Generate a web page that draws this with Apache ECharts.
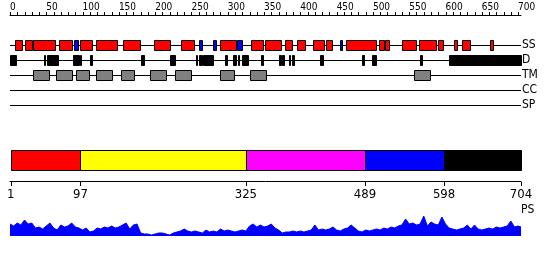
<!DOCTYPE html>
<html><head><meta charset="utf-8">
<script src="https://cdn.jsdelivr.net/npm/echarts@6/dist/echarts.min.js"></script>
<style>html,body{margin:0;padding:0;background:#fff}#c{width:550px;height:260px}</style>
</head><body><div id="c"></div>
<script>
// ---- data ----
const seqLength = 704;
const rowNames = ['SS', 'D', 'TM', 'CC', 'SP'];
const ssHelix = [[7,16],[21,30],[32,62],[67,85],[97,113],[119,148],[155,179],[198,220],[236,253],[290,311],[332,349],[351,374],[379,388],[395,406],[417,432],[435,443],[463,504],[508,515],[517,522],[540,559],[563,587],[589,596],[612,616],[623,634],[661,665]];
const ssStrand = [[88,93],[260,264],[279,284],[313,319],[454,458]];
const disorder = [[0,8],[47,48],[51,66],[87,95],[96,97],[110,113],[181,185],[220,228],[256,257],[261,264],[266,279],[296,299],[307,312],[314,315],[320,328],[346,348],[371,373],[375,377],[384,386],[389,391],[427,431],[485,488],[499,504],[565,567],[605,704]];
const tmSegments = [[32,54],[64,86],[91,109],[119,141],[153,171],[193,215],[228,250],[290,309],[330,352],[557,579]];
const domainBounds = [1, 97, 325, 489, 598, 704];
const rulerTicks = [0,10,20,30,40,50,60,70,80,90,100,110,120,130,140,150,160,170,180,190,200,210,220,230,240,250,260,270,280,290,300,310,320,330,340,350,360,370,380,390,400,410,420,430,440,450,460,470,480,490,500,510,520,530,540,550,560,570,580,590,600,610,620,630,640,650,660,670,680,690,700];
const rulerLabels = [0,50,100,150,200,250,300,350,400,450,500,550,600,650,700];
const psStep = 5;
const psValues = [12,10,13,11,16,12,13,8,9,7, 10,13,8,6,11,9,10,13,9,8, 6,8,4,5,8,7,9,8,10,8, 9,11,13,7,11,12,3,2,2,1, 2,3,3,2,1,3,4,5,7,5, 4,5,4,3,6,4,5,4,7,5, 6,5,4,5,6,5,10,12,9,11, 9,10,12,8,6,3,4,4,5,4, 5,4,5,6,11,6,7,6,7,9, 6,5,7,8,11,8,5,4,6,5, 6,7,6,8,7,9,8,10,11,17, 12,13,11,12,20,10,14,12,11,19, 12,8,7,6,7,8,11,7,11,7, 6,7,8,7,9,8,9,10,15,9, 10,9];

// ---- styles ----
const FONT = "'DejaVu Sans Condensed', 'DejaVu Sans', sans-serif";
const domainColors = ['#ff0000', '#ffff00', '#ff00ff', '#0000ff', '#000000'];

function boxRender(fill) {
  return function (params, api) {
    const s = api.coord([api.value(0), api.value(2)]);
    const e = api.coord([api.value(1), api.value(2)]);
    const x = Math.round(s[0]);
    const w = Math.max(Math.round(e[0]) - x, 1);
    const y = Math.round(s[1]) - 5;
    return { type: 'rect', shape: { x: x + 0.5, y: y + 0.5, width: w, height: 10 },
      style: { fill: fill, stroke: '#000', lineWidth: 1 } };
  };
}
// tick mark: 1px rect spanning its own (tick) grid from y=0 to y=1
function tickRender(params, api) {
  const top = api.coord([api.value(0), 1]);
  const bot = api.coord([api.value(0), 0]);
  const x = Math.round(top[0]);
  const y = Math.round(top[1]);
  return { type: 'rect', shape: { x: x, y: y, width: 1, height: Math.round(bot[1]) - y }, style: { fill: '#000' } };
}
function rowItems(list, row) { return list.map(d => [d[0], d[1], row]); }

const chart = echarts.init(document.getElementById('c'), null, { renderer: 'canvas' });
const common = { left: 10, width: 511 };
chart.setOption({
  animation: false,
  textStyle: { fontFamily: FONT, color: '#000' },
  grid: [
    Object.assign({ top: 15, height: 1 }, common),
    Object.assign({ top: 37.5, height: 75 }, common),
    Object.assign({ top: 150, height: 21 }, common),
    Object.assign({ top: 215, height: 21 }, common),
    Object.assign({ top: 12, height: 3 }, common),
    Object.assign({ top: 182, height: 4 }, common)
  ],
  xAxis: [
    { gridIndex: 0, type: 'value', position: 'top', min: 0, max: seqLength,
      axisLine: { show: true, onZero: false, lineStyle: { color: '#000', width: 1 } },
      axisTick: { show: false },
      splitLine: { show: false },
      axisLabel: { show: true, customValues: rulerLabels, fontSize: 10, color: '#000', fontFamily: FONT, align: 'left', margin: 3 } },
    { gridIndex: 1, type: 'value', min: 0, max: seqLength, show: false },
    { gridIndex: 2, type: 'value', position: 'bottom', offset: 10, min: 0, max: seqLength,
      axisLine: { show: true, onZero: false, lineStyle: { color: '#000', width: 1 } },
      axisTick: { show: false },
      splitLine: { show: false },
      axisLabel: { customValues: domainBounds, fontSize: 13, color: '#000', fontFamily: FONT, margin: 7 } },
    { gridIndex: 3, type: 'value', min: 0, max: seqLength, show: false },
    { gridIndex: 4, type: 'value', min: 0, max: seqLength, show: false },
    { gridIndex: 5, type: 'value', min: 0, max: seqLength, show: false }
  ],
  yAxis: [
    { gridIndex: 0, type: 'value', min: 0, max: 1, show: false },
    { gridIndex: 1, type: 'category', data: rowNames, inverse: true, position: 'right',
      axisLine: { show: false, onZero: false }, axisTick: { show: false }, splitLine: { show: false },
      axisLabel: { interval: 0, fontSize: 12, color: '#000', fontFamily: FONT, margin: 1 } },
    { gridIndex: 2, type: 'value', min: 0, max: 1, show: false },
    { gridIndex: 3, type: 'value', min: 0, max: 21, position: 'right',
      name: 'PS', nameLocation: 'end', nameGap: 5,
      nameTextStyle: { fontSize: 12, color: '#000', fontFamily: FONT, align: 'left', verticalAlign: 'middle' },
      axisLine: { show: false, onZero: false }, axisTick: { show: false }, axisLabel: { show: false }, splitLine: { show: false } },
    { gridIndex: 4, type: 'value', min: 0, max: 1, show: false },
    { gridIndex: 5, type: 'value', min: 0, max: 1, show: false }
  ],
  series: [
    // ruler ticks (grid 4, just above the ruler line)
    { type: 'custom', xAxisIndex: 4, yAxisIndex: 4, silent: true, z: 5,
      data: rulerTicks.map(v => [v, 0.5]), renderItem: tickRender },
    // row baselines
    { type: 'custom', xAxisIndex: 1, yAxisIndex: 1, silent: true,
      data: rowNames.map((n, i) => [0, seqLength, i]),
      renderItem: function (params, api) {
        const s = api.coord([api.value(0), api.value(2)]);
        const e = api.coord([api.value(1), api.value(2)]);
        const y = Math.round(s[1]) + 0.5;
        return { type: 'line', shape: { x1: s[0], y1: y, x2: e[0], y2: y }, style: { stroke: '#000', lineWidth: 1 } };
      } },
    { type: 'custom', xAxisIndex: 1, yAxisIndex: 1, clip: false, data: rowItems(ssHelix, 0), renderItem: boxRender('#ff0000') },
    { type: 'custom', xAxisIndex: 1, yAxisIndex: 1, clip: false, data: rowItems(ssStrand, 0), renderItem: boxRender('#0000ff') },
    { type: 'custom', xAxisIndex: 1, yAxisIndex: 1, clip: false, data: rowItems(disorder, 1), renderItem: boxRender('#000000') },
    { type: 'custom', xAxisIndex: 1, yAxisIndex: 1, clip: false, data: rowItems(tmSegments, 2), renderItem: boxRender('#808080') },
    { type: 'custom', xAxisIndex: 2, yAxisIndex: 2, clip: false,
      data: domainBounds.slice(0, -1).map((b, i) => [b, domainBounds[i + 1], i]),
      renderItem: function (params, api) {
        const s = api.coord([api.value(0), 1]);
        const e = api.coord([api.value(1), 0]);
        const x = Math.round(s[0]);
        const y = Math.round(s[1]);
        return { type: 'rect', shape: { x: x + 0.5, y: y + 0.5, width: Math.round(e[0]) - x, height: Math.round(e[1]) - y - 1 },
          style: { fill: domainColors[api.value(2)], stroke: '#000', lineWidth: 1 } };
      } },
    // domain boundary ticks (grid 5, just below the lower axis line)
    { type: 'custom', xAxisIndex: 5, yAxisIndex: 5, silent: true, z: 5,
      data: domainBounds.map(v => [v, 0.5]), renderItem: tickRender },
    { type: 'line', xAxisIndex: 3, yAxisIndex: 3, symbol: 'none',
      data: psValues.map((v, i) => [Math.min(i * psStep, seqLength), v]),
      lineStyle: { color: '#0000ff', width: 1 }, areaStyle: { color: '#0000ff', opacity: 1 } }
  ]
});
</script></body></html>
